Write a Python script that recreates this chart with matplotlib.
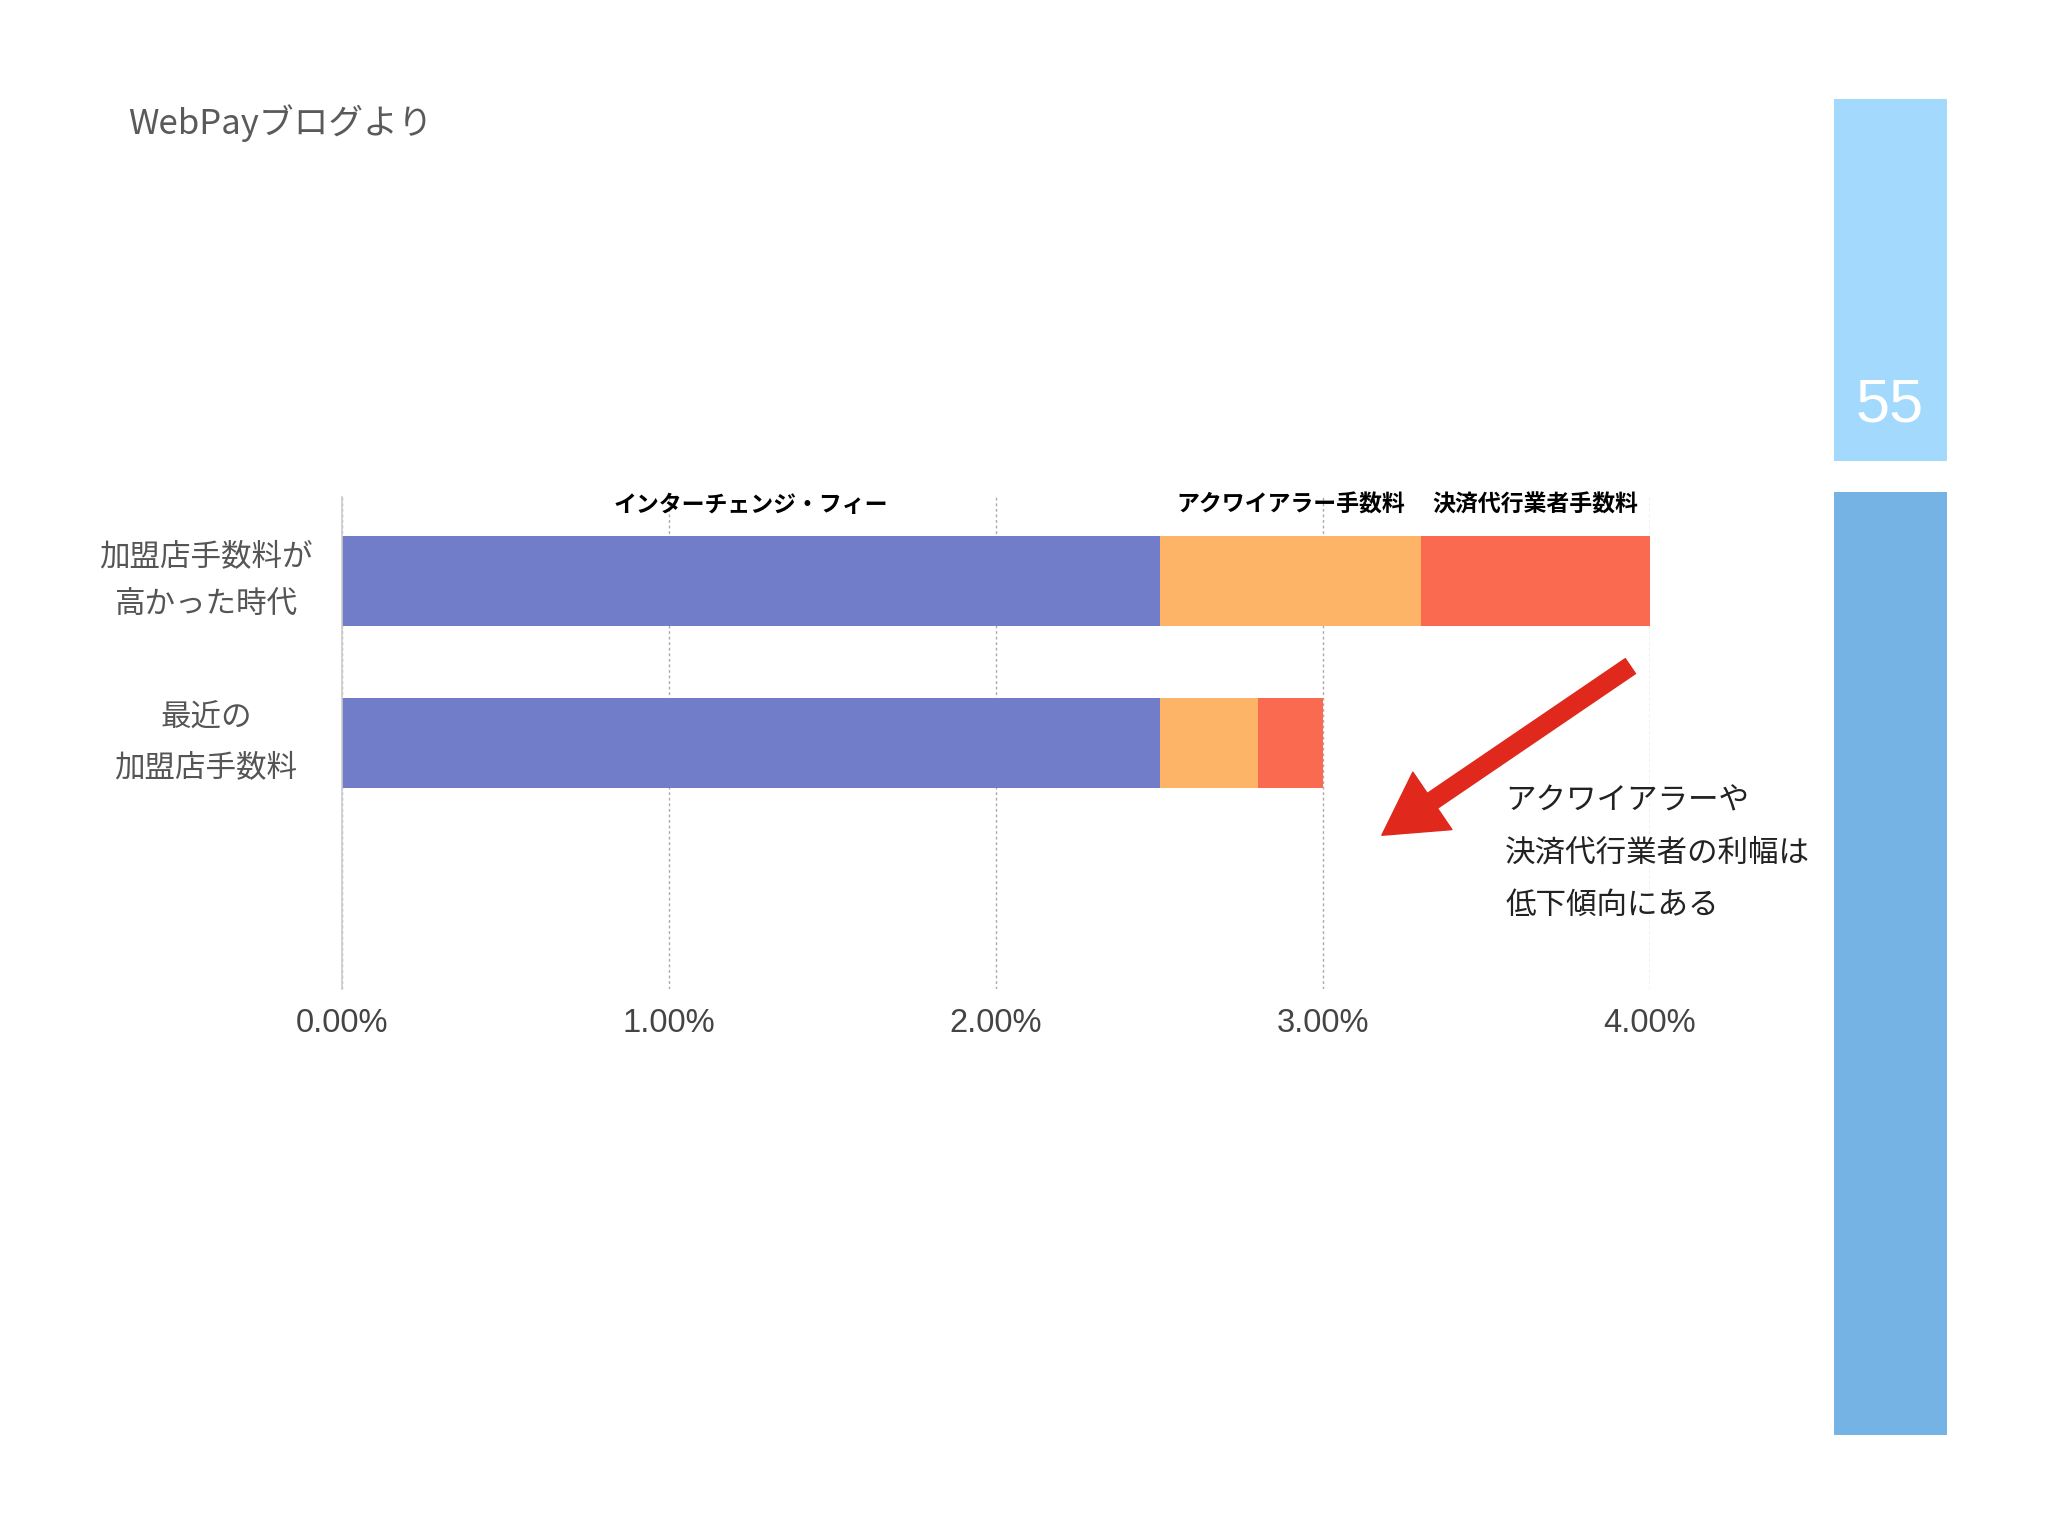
import matplotlib
matplotlib.use("Agg")
import matplotlib.pyplot as plt
from matplotlib.patches import Rectangle
import numpy as np

plt.rcParams['font.family'] = ['Noto Sans CJK JP', 'DejaVu Sans']

# data (% of transaction)
categories = ["加盟店手数料が\n高かった時代", "最近の\n加盟店手数料"]
segments = ["インターチェンジ・フィー", "アクワイアラー手数料", "決済代行業者手数料"]
interchange = [2.5, 2.5]
acquirer = [0.8, 0.3]
processor = [0.7, 0.2]
colors = ["#717dc8", "#fdb467", "#f96a51"]
xticks = [0, 1, 2, 3, 4]
note_lines = ["アクワイアラーや", "決済代行業者の利幅は", "低下傾向にある"]

fig = plt.figure(figsize=(20.48, 15.36), dpi=100)
fig.patch.set_facecolor("white")

ax = fig.add_axes([342 / 2048, 1 - 989 / 1536, (1650 - 342) / 2048, (989 - 497) / 1536])

y = np.arange(len(categories))
series = [interchange, acquirer, processor]
left = np.zeros(len(categories))
for vals, col in zip(series, colors):
    ax.barh(y, vals, left=left, height=0.556, color=col, edgecolor="none", zorder=2)
    left = left + np.array(vals)

# segment labels above the first bar
starts = np.cumsum([0] + [s[0] for s in series[:-1]])
for lab, st, s in zip(segments, starts, series):
    ax.text(st + s[0] / 2, -0.47, lab, ha="center", va="center",
            fontsize=16.5, fontweight="bold", color="black")

ax.set_xlim(0, 4)
ax.set_ylim(2.52, -0.52)
ax.set_xticks(xticks)
ax.set_xticklabels(["{:.2f}%".format(t) for t in xticks],
                   fontsize=23.5, color="#444444", family=["Liberation Sans", "DejaVu Sans"])
ax.set_yticks(y)
ax.set_yticklabels(categories, fontsize=22, color="#555555", ha="center", va="center",
                   linespacing=1.75)
ax.tick_params(axis="y", length=0, pad=98)
ax.tick_params(axis="x", length=0, pad=14)

for sp in ["top", "right", "bottom"]:
    ax.spines[sp].set_visible(False)
ax.spines["left"].set_color("#cccccc")
ax.spines["left"].set_linewidth(1.2)
ax.grid(axis="x", linestyle=(0, (2, 2)), color="#aaaaaa", linewidth=1, zorder=1)
ax.grid(axis="y", visible=False)
ax.set_facecolor("none")

# arrow and note
ax.annotate("", xy=(3.18, 1.57), xytext=(3.94, 0.525),
            arrowprops=dict(arrowstyle="simple,head_length=44,head_width=50,tail_width=13",
                            color="#e0281c", shrinkA=0, shrinkB=0, mutation_scale=1),
            annotation_clip=False, zorder=5)
for i, line in enumerate(note_lines):
    ax.text(3.557, 1.36 + i * 0.321, line, ha="left", va="center",
            fontsize=22, color="#222222", zorder=6)

# title
fig.text(128 / 2048, 1 - 123 / 1536, "WebPayブログより", fontsize=25,
         color="#5a5a5a", ha="left", va="center")

# right side panels
fig.add_artist(Rectangle((1834 / 2048, 1 - 461 / 1536), 113 / 2048, 362 / 1536,
                         transform=fig.transFigure, color="#a3d9fc", lw=0))
fig.add_artist(Rectangle((1834 / 2048, 1 - 1435 / 1536), 113 / 2048, 943 / 1536,
                         transform=fig.transFigure, color="#74b3e3", lw=0))
fig.text(1890 / 2048, 1 - 406 / 1536, "55", fontsize=44, color="white",
         ha="center", va="center", family=["Liberation Sans", "DejaVu Sans"])

fig.savefig("out.png", dpi=100)
